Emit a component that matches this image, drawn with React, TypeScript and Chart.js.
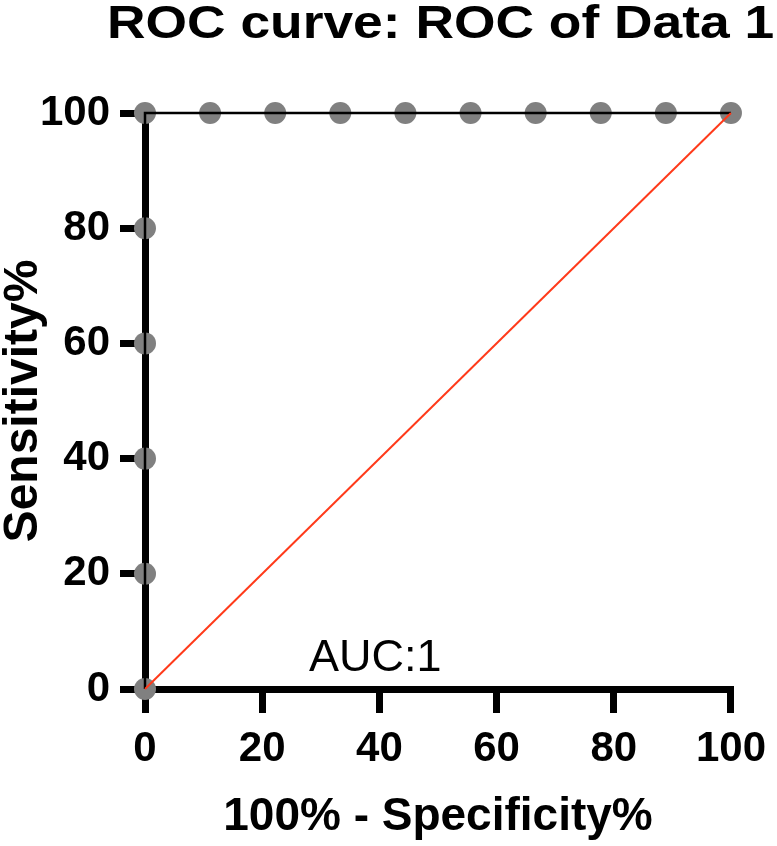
import React, { useEffect, useRef } from "react";
import { Chart, registerables } from "chart.js";

Chart.register(...registerables);

// ROC curve points (100% - Specificity%, Sensitivity%)
const rocX = [0, 0, 0, 0, 0, 0, 11.11, 22.22, 33.33, 44.44, 55.56, 66.67, 77.78, 88.89, 100];
const rocY = [0, 20, 40, 60, 80, 100, 100, 100, 100, 100, 100, 100, 100, 100, 100];
// Reference (chance) line
const refX = [0, 100];
const refY = [0, 100];
// Annotation
const aucText = "AUC:1";
const aucPos = [28, 3.1];
const titleText = "ROC curve: ROC of Data 1";
const xTitle = "100% - Specificity%";
const yTitle = "Sensitivity%";

const FONT = "'Liberation Sans', Arial, Helvetica, sans-serif";

export default function App() {
  const ref = useRef<HTMLCanvasElement | null>(null);

  useEffect(() => {
    if (!ref.current) return;
    const rocPts = rocX.map((x, i) => ({ x, y: rocY[i] }));
    const refPts = refX.map((x, i) => ({ x, y: refY[i] }));

    const textPlugin = {
      id: "texts",
      afterDraw(chart: any) {
        const ctx = chart.ctx;
        const xs = chart.scales.x;
        const ys = chart.scales.y;
        ctx.save();
        ctx.fillStyle = "#000";
        ctx.textAlign = "left";
        ctx.textBaseline = "alphabetic";
        ctx.font = `normal 45px ${FONT}`;
        ctx.fillText(aucText, xs.getPixelForValue(aucPos[0]), ys.getPixelForValue(aucPos[1]));
        ctx.restore();

        ctx.save();
        ctx.fillStyle = "#000";
        ctx.textAlign = "left";
        ctx.textBaseline = "alphabetic";
        ctx.font = `bold 46px ${FONT}`;
        ctx.translate(107, 38);
        ctx.scale(1.16, 1);
        ctx.fillText(titleText, 0, 0);
        ctx.restore();
      },
    };

    const chart = new Chart(ref.current, {
      type: "scatter",
      data: {
        datasets: [
          {
            label: "Reference",
            data: refPts,
            showLine: true,
            borderColor: "#ff3a1a",
            borderWidth: 2,
            pointRadius: 0,
            clip: false,
          } as any,
          {
            label: "ROC line",
            data: rocPts,
            showLine: true,
            borderColor: "#000000",
            borderWidth: 2.5,
            pointRadius: 0,
            clip: false,
          } as any,
          {
            label: "ROC points",
            data: rocPts,
            showLine: false,
            pointRadius: 11,
            pointBackgroundColor: "#808080",
            pointBorderWidth: 0,
            clip: false,
          } as any,
        ],
      },
      options: {
        animation: false,
        responsive: false,
        events: [],
        layout: { padding: { top: 113, right: 41, left: 0, bottom: 0 } },
        plugins: {
          legend: { display: false },
          tooltip: { enabled: false },
          title: { display: false },
        },
        scales: {
          x: {
            type: "linear",
            min: 0,
            max: 100,
            afterFit: (s: any) => {
              s.height = 157;
            },
            border: { display: true, color: "#000", width: 7 },
            grid: {
              display: true,
              drawOnChartArea: false,
              drawTicks: true,
              tickLength: 24,
              lineWidth: 7,
              color: "#000",
            },
            ticks: {
              stepSize: 20,
              autoSkip: false,
              maxRotation: 0,
              padding: 11,
              color: "#000",
              font: { family: FONT, size: 42, weight: "bold" },
            },
            title: {
              display: true,
              text: xTitle,
              color: "#000",
              font: { family: FONT, size: 46, weight: "bold", lineHeight: 1 },
              padding: { top: 0, bottom: 6 },
            },
          },
          y: {
            type: "linear",
            min: 0,
            max: 100,
            afterFit: (s: any) => {
              s.width = 145;
            },
            border: { display: true, color: "#000", width: 7 },
            grid: {
              display: true,
              drawOnChartArea: false,
              drawTicks: true,
              tickLength: 25,
              lineWidth: 7,
              color: "#000",
            },
            ticks: {
              stepSize: 20,
              autoSkip: false,
              padding: 10,
              color: "#000",
              font: { family: FONT, size: 42, weight: "bold" },
            },
            title: {
              display: true,
              text: yTitle,
              color: "#000",
              font: { family: FONT, size: 48, weight: "bold", lineHeight: 1 },
              padding: { top: 0, bottom: 0 },
            },
          },
        },
      } as any,
      plugins: [textPlugin],
    });
    return () => chart.destroy();
  }, []);

  return (
    <div style={{ position: "fixed", left: 0, top: 0, width: 777, height: 846, background: "#fff" }}>
      <canvas ref={ref} width={777} height={846} style={{ display: "block" }} />
    </div>
  );
}
